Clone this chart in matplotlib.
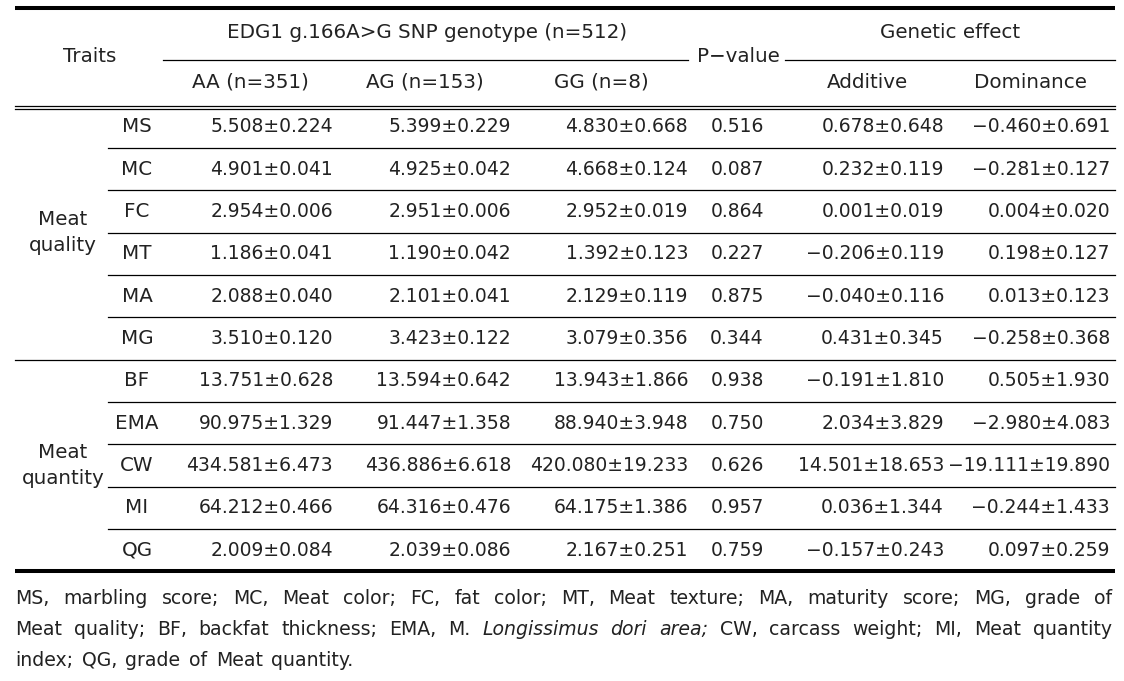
import matplotlib
matplotlib.use("Agg")
import matplotlib.pyplot as plt

# ---- table data ----
groups = ["Meat\nquality", "Meat\nquantity"]
group_rows = [6, 5]
traits = ["MS", "MC", "FC", "MT", "MA", "MG", "BF", "EMA", "CW", "MI", "QG"]
aa_mean = [5.508, 4.901, 2.954, 1.186, 2.088, 3.510, 13.751, 90.975, 434.581, 64.212, 2.009]
aa_se = [0.224, 0.041, 0.006, 0.041, 0.040, 0.120, 0.628, 1.329, 6.473, 0.466, 0.084]
ag_mean = [5.399, 4.925, 2.951, 1.190, 2.101, 3.423, 13.594, 91.447, 436.886, 64.316, 2.039]
ag_se = [0.229, 0.042, 0.006, 0.042, 0.041, 0.122, 0.642, 1.358, 6.618, 0.476, 0.086]
gg_mean = [4.830, 4.668, 2.952, 1.392, 2.129, 3.079, 13.943, 88.940, 420.080, 64.175, 2.167]
gg_se = [0.668, 0.124, 0.019, 0.123, 0.119, 0.356, 1.866, 3.948, 19.233, 1.386, 0.251]
p_values = [0.516, 0.087, 0.864, 0.227, 0.875, 0.344, 0.938, 0.750, 0.626, 0.957, 0.759]
add_eff = [0.678, 0.232, 0.001, -0.206, -0.040, 0.431, -0.191, 2.034, 14.501, 0.036, -0.157]
add_se = [0.648, 0.119, 0.019, 0.119, 0.116, 0.345, 1.810, 3.829, 18.653, 1.344, 0.243]
dom_eff = [-0.460, -0.281, 0.004, 0.198, 0.013, -0.258, 0.505, -2.980, -19.111, -0.244, 0.097]
dom_se = [0.691, 0.127, 0.020, 0.127, 0.123, 0.368, 1.930, 4.083, 19.890, 1.433, 0.259]

header_top = ["EDG1 g.166A>G SNP genotype (n=512)", "Genetic effect"]
header_sub = ["AA (n=351)", "AG (n=153)", "GG (n=8)", "Additive", "Dominance"]

footnote = [
    "MS, marbling score; MC, Meat color; FC, fat color; MT, Meat texture; MA, maturity score; MG, grade of",
    "Meat quality; BF, backfat thickness; EMA, M. |Longissimus |dori |area; CW, carcass weight; MI, Meat quantity",
    "index; QG, grade of Meat quantity.",
]

W, H = 1124, 681
TXT = "#222222"
FS = 14.3      # header / label text
FS_NUM = 13.5  # numbers in the body


def fmt(m, s):
    return f"{m:.3f}±{s:.3f}".replace("-", "−")


fig = plt.figure(figsize=(W / 100, H / 100), dpi=100)
ax = fig.add_axes([0, 0, 1, 1])
ax.set_xlim(0, W)
ax.set_ylim(H, 0)
ax.axis("off")

L, R = 15, 1115
y0, dy = 127, 42.3

# rules
ax.plot([L, R], [8, 8], color="black", lw=2.9, solid_capstyle="butt")
ax.plot([163, 688], [60, 60], color="black", lw=0.9)
ax.plot([785, R], [60, 60], color="black", lw=0.9)
ax.plot([L, R], [105.5, 105.5], color="black", lw=0.9)
ax.plot([L, R], [109, 109], color="black", lw=0.9)
for i in range(len(traits) - 1):
    y = y0 + (i + 0.5) * dy
    x_start = L if i == group_rows[0] - 1 else 108
    ax.plot([x_start, R], [y, y], color="black", lw=0.9)
ax.plot([L, R], [y0 + (len(traits) - 0.5) * dy, y0 + (len(traits) - 0.5) * dy],
        color="black", lw=2.9, solid_capstyle="butt")

# headers
kw = dict(fontsize=FS, color=TXT, va="center")
ax.text(90, 57, "Traits", ha="center", **kw)
ax.text(427, 33, header_top[0], ha="center", **kw)
ax.text(950, 33, header_top[1], ha="center", **kw)
ax.text(738, 57, "P−value", ha="center", **kw)
for x, s in zip([250, 425, 601, 867, 1030], header_sub):
    ax.text(x, 82, s, ha="center", **kw)

# group labels
start = 0
for g, n in zip(groups, group_rows):
    yc = y0 + (start + (n - 1) / 2) * dy
    ax.text(63, yc, g, ha="center", linespacing=1.45, **kw)
    start += n

# body
nkw = dict(fontsize=FS_NUM, color=TXT, va="center")
for i, t in enumerate(traits):
    y = y0 + i * dy
    ax.text(137, y, t, ha="center", **kw)
    ax.text(333, y, fmt(aa_mean[i], aa_se[i]), ha="right", **nkw)
    ax.text(511, y, fmt(ag_mean[i], ag_se[i]), ha="right", **nkw)
    ax.text(688, y, fmt(gg_mean[i], gg_se[i]), ha="right", **nkw)
    ax.text(737, y, f"{p_values[i]:.3f}", ha="center", **nkw)
    ax.text(944, y, fmt(add_eff[i], add_se[i]), ha="right", **nkw)
    ax.text(1110, y, fmt(dom_eff[i], dom_se[i]), ha="right", **nkw)

# footnote, justified word by word
renderer = fig.canvas.get_renderer()
for k, line in enumerate(footnote):
    y = 599 + k * 30.5
    parts = line.split(" ")
    objs = []
    for p in parts:
        italic = p.startswith("|")
        word = p.lstrip("|")
        objs.append(ax.text(0, y, word, fontsize=13.6, color=TXT, va="center",
                            style="italic" if italic else "normal"))
    widths = [o.get_window_extent(renderer).width for o in objs]
    if k < len(footnote) - 1:
        gap = (1112 - L - sum(widths)) / (len(objs) - 1)
    else:
        gap = 8.5
    x = L
    for o, w in zip(objs, widths):
        o.set_x(x)
        x += w + gap

fig.savefig("out.png", dpi=100)
